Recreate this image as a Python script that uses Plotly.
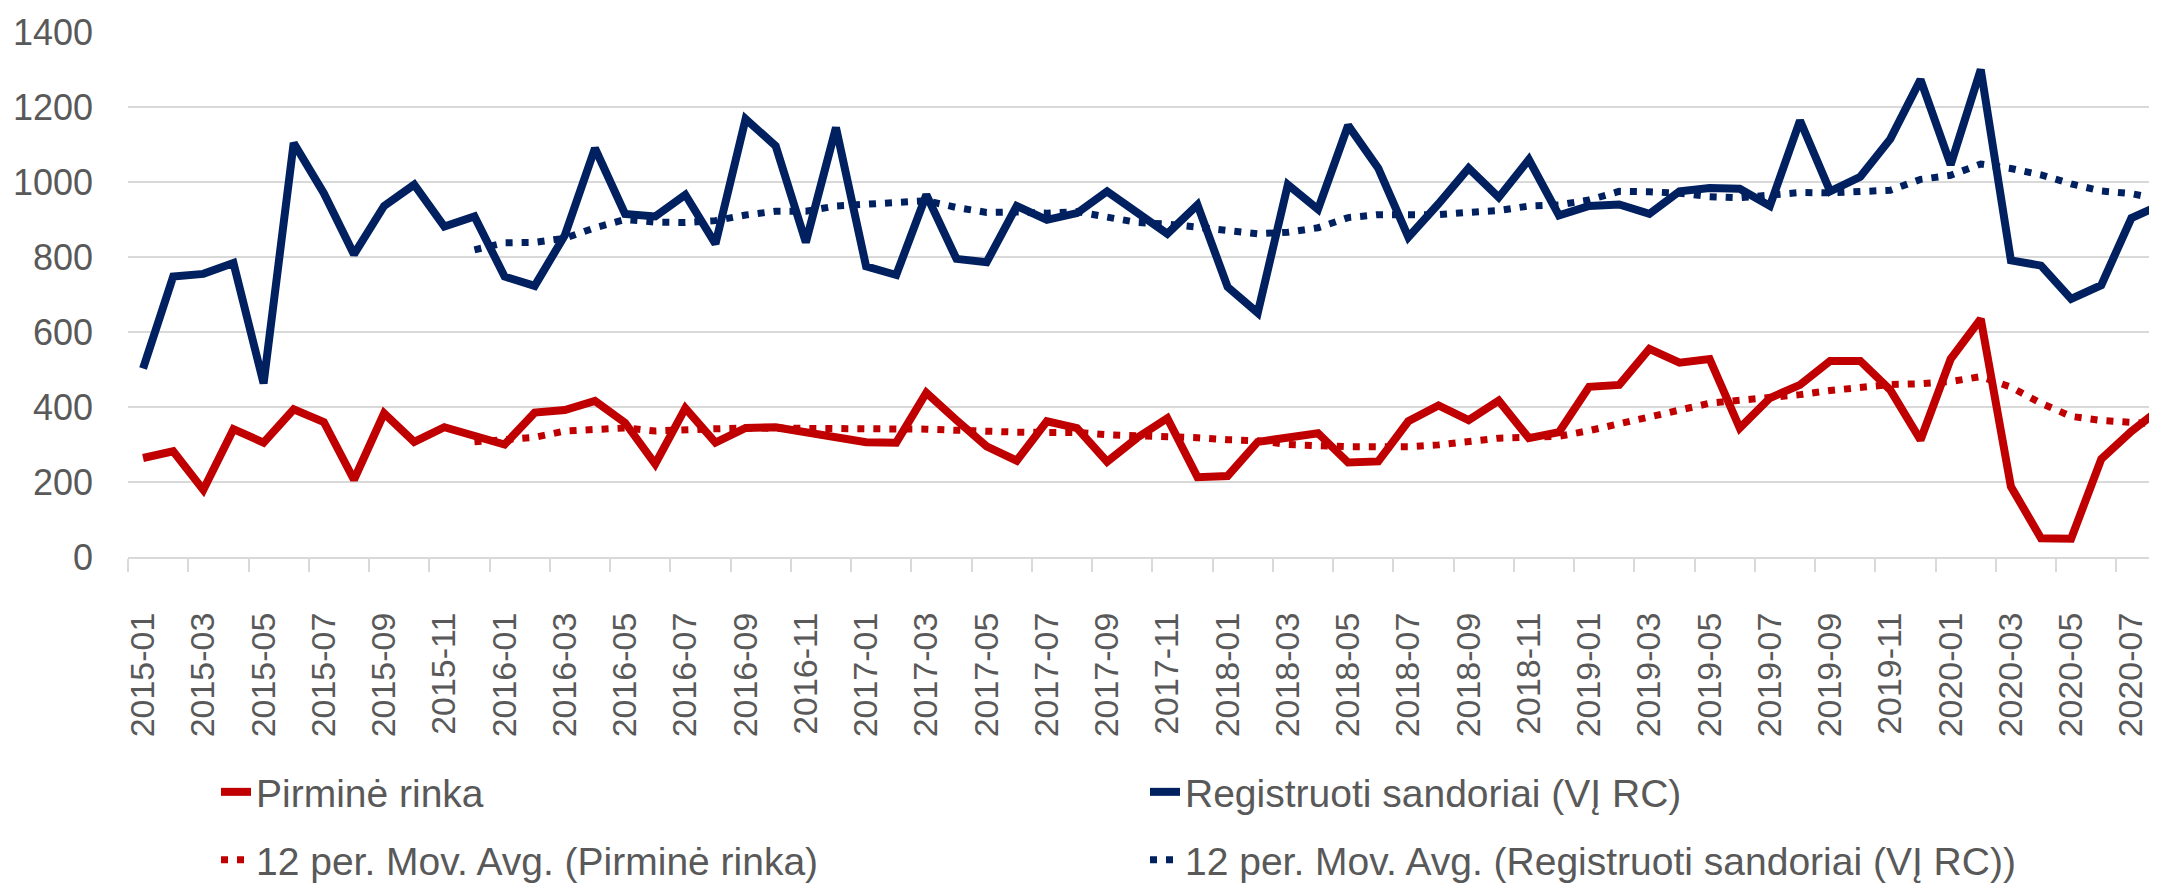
import plotly.graph_objects as go

# ---- data ----
months = [f"{y}-{m:02d}" for y in range(2015, 2021) for m in range(1, 13)][:68]

pirmine = [264, 282, 179, 341, 305, 394, 360, 206, 383, 307, 346, 323,
           300, 385, 392, 416, 358, 248, 397, 305, 344, 346, 332, 321,
           306, 305, 438, 365, 295, 257, 362, 344, 254, 318, 370, 213,
           216, 307, 317, 330, 252, 255, 362, 404, 365, 417, 317, 333,
           454, 459, 555, 518, 528, 344, 424, 459, 523, 523, 445, 312,
           528, 635, 188, 50, 49, 261, 335, 398]

registruoti = [503, 748, 755, 784, 463, 1104, 970, 807, 936, 993, 881, 908,
               748, 723, 858, 1090, 915, 908, 966, 835, 1168, 1096, 839, 1145,
               775, 752, 966, 795, 786, 936, 899, 917, 975, 917, 862, 939,
               720, 651, 993, 927, 1151, 1037, 853, 942, 1037, 959, 1060, 911,
               936, 940, 915, 975, 984, 982, 936, 1164, 975, 1014, 1115, 1273,
               1046, 1300, 791, 777, 688, 725, 904, 940]

ma_pirmine = [None] * 11 + [
    307, 314, 319, 336, 341, 344, 336, 337, 342, 344, 344, 344,
    344, 343, 340, 341, 338, 334, 333, 332, 332, 326, 324, 324,
    318, 313, 310, 300, 296, 294, 294, 294, 299, 310, 317, 319,
    322, 337, 355, 373, 393, 410, 418, 425, 433, 444, 453, 460,
    462, 468, 481, 453, 410, 375, 364, 358, 354]

ma_registruoti = [None] * 11 + [
    819, 838, 839, 850, 878, 900, 893, 892, 897, 912, 922, 922,
    936, 940, 944, 950, 932, 919, 920, 917, 921, 905, 892, 888,
    878, 872, 862, 866, 878, 905, 913, 913, 913, 919, 924, 936,
    939, 952, 975, 974, 970, 961, 958, 965, 972, 971, 973, 978,
    1007, 1018, 1048, 1036, 1019, 995, 976, 969, 953]

names = ["Pirminė rinka", "Registruoti sandoriai (VĮ RC)",
         "12 per. Mov. Avg. (Pirminė rinka)",
         "12 per. Mov. Avg. (Registruoti sandoriai (VĮ RC))"]

y_ticks = [0, 200, 400, 600, 800, 1000, 1200, 1400]

# ---- style ----
RED = "#C00000"
BLUE = "#002060"
GRID = "#D9D9D9"
TXT = "#595959"
FONT = "Liberation Sans, Arial, sans-serif"

idx = list(range(len(months)))

fig = go.Figure()
fig.add_trace(go.Scatter(x=idx, y=pirmine, name=names[0], mode="lines",
                         line=dict(color=RED, width=8), legend="legend"))
fig.add_trace(go.Scatter(x=idx, y=registruoti, name=names[1], mode="lines",
                         line=dict(color=BLUE, width=8), legend="legend"))
fig.add_trace(go.Scatter(x=idx, y=ma_pirmine, name=names[2], mode="lines",
                         line=dict(color=RED, width=7, dash="7px,9px"),
                         legend="legend2"))
fig.add_trace(go.Scatter(x=idx, y=ma_registruoti, name=names[3], mode="lines",
                         line=dict(color=BLUE, width=7, dash="7px,9px"),
                         legend="legend2"))

# the page adds an 8px body margin, so the figure is 8px smaller
W, H = 2149, 879
fig.update_layout(
    width=W, height=H,
    margin=dict(l=120, r=0, t=24, b=330),
    paper_bgcolor="white", plot_bgcolor="white",
    font=dict(family=FONT, color=TXT, size=34),
    xaxis=dict(
        range=[-0.5, 66.85],
        tickmode="array", tickvals=idx[::2], ticktext=months[::2],
        tickangle=-90, ticks="", ticklabelstandoff=40,
        tickfont=dict(size=34, color=TXT, family=FONT),
        showgrid=False, zeroline=False,
        showline=True, linecolor=GRID, linewidth=2,
        minor=dict(tickmode="array",
                   tickvals=[i - 0.5 for i in idx[::2]],
                   ticks="outside", ticklen=13, tickwidth=2,
                   tickcolor=GRID, showgrid=False),
    ),
    yaxis=dict(
        range=[0, 1400], tickmode="array", tickvals=y_ticks,
        ticks="", ticklabelstandoff=34,
        tickfont=dict(size=36, color=TXT, family=FONT),
        showgrid=True, gridcolor=GRID, gridwidth=2,
        zeroline=False, showline=False,
    ),
    showlegend=True,
    legend=dict(orientation="h", xref="container", yref="container",
                x=208 / W, y=(H - 784) / H, xanchor="left", yanchor="middle",
                entrywidth=884, entrywidthmode="pixels",
                font=dict(size=39, color=TXT, family=FONT),
                bgcolor="rgba(0,0,0,0)", itemclick=False),
    legend2=dict(orientation="h", xref="container", yref="container",
                 x=208 / W, y=(H - 852) / H, xanchor="left", yanchor="middle",
                 entrywidth=884, entrywidthmode="pixels",
                 font=dict(size=39, color=TXT, family=FONT),
                 bgcolor="rgba(0,0,0,0)", itemclick=False),
)

fig.write_html("out.html")
